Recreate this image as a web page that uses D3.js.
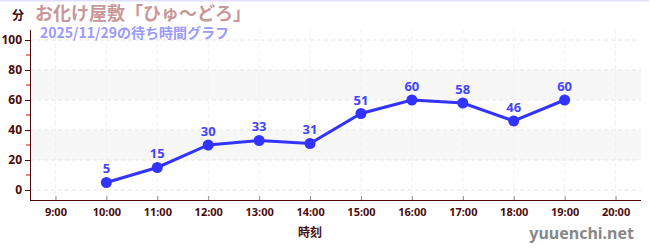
<!DOCTYPE html>
<html>
<head>
<meta charset="utf-8">
<script src="https://cdn.jsdelivr.net/npm/d3@7"></script>
<style>
body { margin:0; background:#fff; }
svg { display:block; font-family:"Noto Sans CJK JP","Noto Sans",sans-serif; }
</style>
</head>
<body>
<svg id="chart"></svg>
<script>
var hours = [10, 11, 12, 13, 14, 15, 16, 17, 18, 19];
var waits = [5, 15, 30, 33, 31, 51, 60, 58, 46, 60];
var xTicks = [9, 10, 11, 12, 13, 14, 15, 16, 17, 18, 19, 20];
var yTicks = [0, 20, 40, 60, 80, 100];
var yMinor = [10, 30, 50, 70, 90];
var bands = [[20, 40], [60, 80]];

var svgWidth = 650, svgHeight = 250;
var plotLeft = 30, plotRight = 641, plotTop = 30, plotBottom = 200;

var svg = d3.select('#chart')
    .attr("width", svgWidth)
    .attr("height", svgHeight);

var x = d3.scaleLinear().domain([8.5, 20.5]).range([plotLeft, plotRight]);
var y = d3.scaleLinear().domain([-6.67, 106.67]).range([plotBottom, plotTop]);

// top border
svg.append("line").attr("x1", 0).attr("x2", 649).attr("y1", 0.5).attr("y2", 0.5)
    .attr("stroke", "#e0e0ff").attr("stroke-width", 2);

// bands
svg.selectAll("rect.band").data(bands).enter().append("rect")
    .attr("class", "band")
    .attr("x", plotLeft).attr("width", plotRight - plotLeft)
    .attr("y", function(d) { return y(d[1]); })
    .attr("height", function(d) { return y(d[0]) - y(d[1]); })
    .attr("fill", "#f7f7f7");

// grid
svg.selectAll("line.hgrid").data(yTicks).enter().append("line")
    .attr("x1", plotLeft).attr("x2", plotRight)
    .attr("y1", function(d) { return y(d); }).attr("y2", function(d) { return y(d); })
    .attr("stroke", "#e6e6e6").attr("stroke-dasharray", "4,3");
svg.selectAll("line.vgrid").data(xTicks).enter().append("line")
    .attr("y1", plotTop).attr("y2", plotBottom)
    .attr("x1", function(d) { return x(d); }).attr("x2", function(d) { return x(d); })
    .attr("stroke", "#f0f0f0").attr("stroke-dasharray", "4,3");

// y axis
var yAxis = svg.append("g").attr("transform", "translate(" + plotLeft + ",0)")
    .call(d3.axisLeft(y).tickValues(yTicks).tickSize(5).tickPadding(3));
yAxis.select(".domain").attr("stroke", "#4a0a0a").attr("d", "M0.5," + plotTop + "V" + plotBottom);
yAxis.selectAll(".tick line").attr("stroke", "#4a0a0a");
yAxis.selectAll(".tick text").attr("fill", "#4a0a0a").attr("font-size", 12).attr("font-weight", "bold")
    .attr("font-family", "Noto Sans, sans-serif");
svg.append("g").attr("transform", "translate(" + plotLeft + ",0)")
    .selectAll("line").data(yMinor).enter().append("line")
    .attr("x1", -4).attr("x2", 0)
    .attr("y1", function(d) { return y(d); }).attr("y2", function(d) { return y(d); })
    .attr("stroke", "#dd0000");

// x axis
var xAxis = svg.append("g").attr("transform", "translate(0," + plotBottom + ")")
    .call(d3.axisBottom(x).tickValues(xTicks).tickSize(4).tickPadding(4)
        .tickFormat(function(d) { return d + ":00"; }));
xAxis.select(".domain").attr("stroke", "#4a0a0a").attr("d", "M" + plotLeft + ",0.5H" + plotRight);
xAxis.selectAll(".tick line").attr("stroke", "#888").attr("y1", -4).attr("y2", 0);
xAxis.selectAll(".tick text").attr("fill", "#4a0a0a").attr("font-size", 11).attr("font-weight", "bold")
    .attr("font-family", "Noto Sans, sans-serif");

// line
var line = d3.line().x(function(d, i) { return x(hours[i]); }).y(function(d) { return y(d); });
svg.append("path").datum(waits)
    .attr("d", line).attr("fill", "none")
    .attr("stroke", "#3333ff").attr("stroke-width", 3);
svg.selectAll("circle").data(waits).enter().append("circle")
    .attr("cx", function(d, i) { return x(hours[i]); })
    .attr("cy", function(d) { return y(d); })
    .attr("r", 5.5).attr("fill", "#3333ff");
svg.selectAll("text.val").data(waits).enter().append("text")
    .attr("class", "val")
    .attr("x", function(d, i) { return x(hours[i]); })
    .attr("y", function(d) { return y(d) - 9; })
    .attr("text-anchor", "middle")
    .attr("font-size", 13).attr("font-weight", "bold")
    .attr("font-family", "Noto Sans, sans-serif")
    .attr("fill", "#4444ff")
    .text(function(d) { return d; });

// titles
svg.append("text").attr("x", 12).attr("y", 20).attr("font-size", 12).attr("font-weight", "bold")
    .attr("fill", "#3a0a0a").text("分");
svg.append("text").attr("x", 35).attr("y", 20).attr("font-size", 18).attr("font-weight", "bold")
    .attr("fill", "#c89898").text("お化け屋敷「ひゅ～どろ」");
svg.append("text").attr("x", 40).attr("y", 38).attr("font-size", 14).attr("font-weight", "bold")
    .attr("fill", "#9a9aff").text("2025/11/29の待ち時間グラフ");
svg.append("text").attr("x", 310).attr("y", 237).attr("text-anchor", "middle")
    .attr("font-size", 12).attr("font-weight", "bold").attr("fill", "#4a0a0a").text("時刻");
svg.append("text").attr("x", 634).attr("y", 239).attr("text-anchor", "end")
    .attr("font-size", 16).attr("font-weight", "bold")
    .attr("font-family", "Noto Sans, sans-serif")
    .attr("fill", "#888").text("yuuenchi.net");
</script>
</body>
</html>
